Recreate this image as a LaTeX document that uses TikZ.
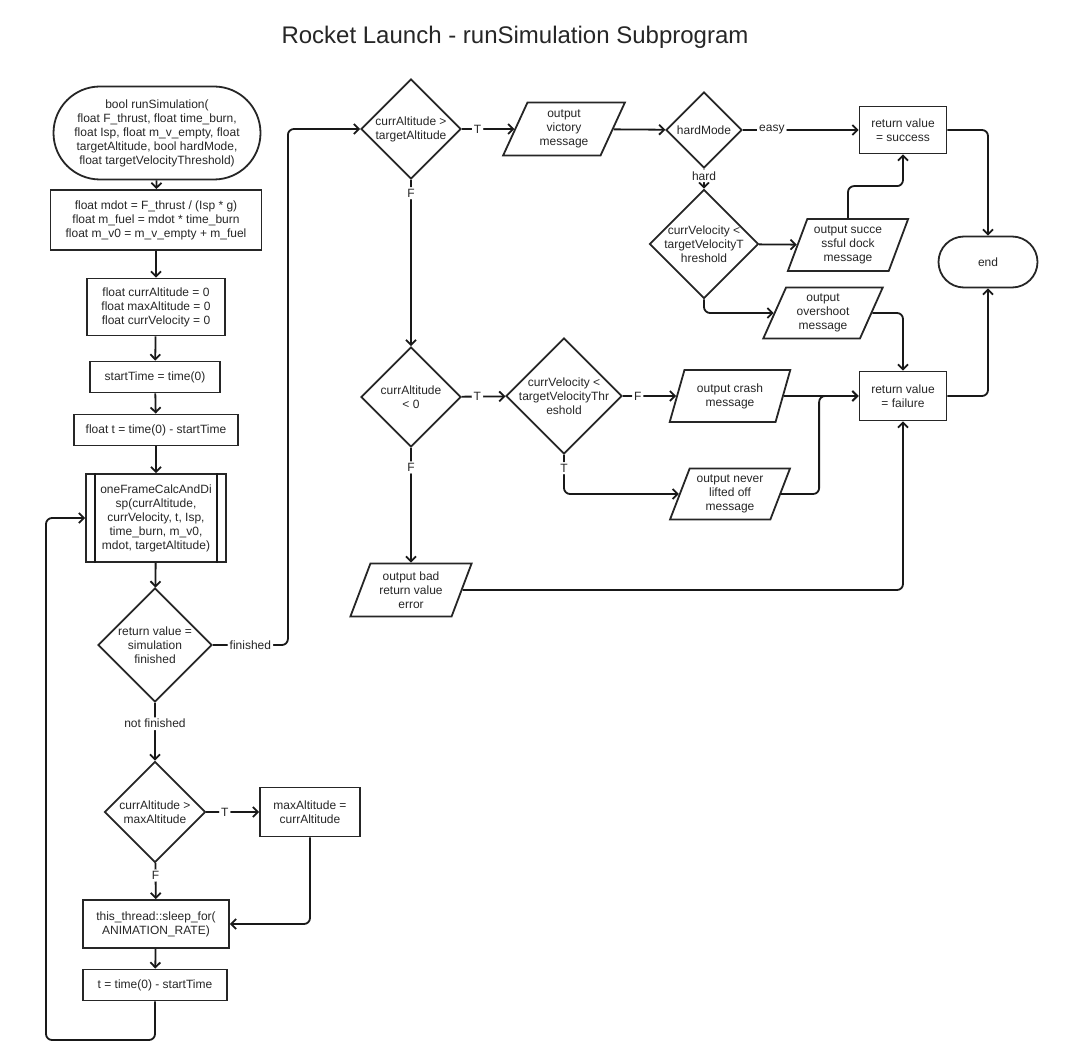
\documentclass[tikz,border=0pt]{standalone}
\usepackage{fontspec}
\setmainfont{Liberation Sans}
\usepackage{tikz}
\usetikzlibrary{shapes.geometric,shapes.misc,arrows.meta}

\begin{document}
\begin{tikzpicture}
 [x=1pt, y=-1pt, font=\fontsize{12}{14}\selectfont,
  every node/.style={text=black!85},
  line/.style={draw=black!90, line width=1.8pt, rounded corners=6pt},
  flow/.style={line, -{Straight Barb[length=5pt,width=10pt]}},
  proc node/.style={rectangle, draw=black!85, line width=1.8pt, align=center, inner sep=1pt},
  term node/.style={rounded rectangle, draw=black!85, line width=1.8pt, align=center, inner sep=1pt},
  dec node/.style={diamond, aspect=1, draw=black!85, line width=1.8pt, align=center, inner sep=0pt},
  io node/.style={trapezium, trapezium left angle=67, trapezium right angle=113, trapezium stretches=true,
                  draw=black!85, line width=1.8pt, align=center, inner sep=0pt},
  lbl/.style={fill=white, inner sep=2pt}]
\useasboundingbox (0,0) rectangle (1065,1064);

\node (title) at (515,37) {\fontsize{24}{28}\selectfont Rocket Launch - runSimulation Subprogram};

% main column
\node[term node, minimum width=209pt, minimum height=93pt] (start) at (157,133)
  {bool runSimulation(\\float F\_thrust, float time\_burn,\\float Isp, float m\_v\_empty, float\\targetAltitude, bool hardMode,\\float targetVelocityThreshold)};
\node[proc node, minimum width=211pt, minimum height=60pt] (mdot) at (156,220)
  {float mdot = F\_thrust / (Isp * g)\\float m\_fuel = mdot * time\_burn\\float m\_v0 = m\_v\_empty + m\_fuel};
\node[proc node, minimum width=138pt, minimum height=57pt] (init) at (156,307)
  {float currAltitude = 0\\float maxAltitude = 0\\float currVelocity = 0};
\node[proc node, minimum width=130pt, minimum height=31pt] (stime) at (155,377) {startTime = time(0)};
\node[proc node, minimum width=164pt, minimum height=31pt] (tinit) at (156,430) {float t = time(0) - startTime};
\node[proc node, minimum width=140pt, minimum height=88pt] (sub) at (156,518)
  {oneFrameCalcAndDi\\sp(currAltitude,\\currVelocity, t, Isp,\\time\_burn, m\_v0,\\mdot, targetAltitude)};
\draw[line] ([xshift=10pt]sub.north west) -- ([xshift=10pt]sub.south west);
\draw[line] ([xshift=-10pt]sub.north east) -- ([xshift=-10pt]sub.south east);
\node[dec node, minimum size=114pt, inner sep=-1pt] (d1) at (155,645) {return value =\\simulation\\finished};
\node[dec node, minimum size=101pt] (d2) at (155,812) {currAltitude >\\maxAltitude};
\node[proc node, minimum width=100pt, minimum height=49pt] (maxa) at (310,812) {maxAltitude =\\currAltitude};
\node[proc node, minimum width=146pt, minimum height=48pt] (sleep) at (156,924) {this\_thread::sleep\_for(\\ANIMATION\_RATE)};
\node[proc node, minimum width=144pt, minimum height=31pt] (tupd) at (155,985) {t = time(0) - startTime};
\coordinate (loop) at (46,1040);

% result branches
\node[dec node, minimum size=100pt, inner sep=-1pt] (d3) at (411,129) {currAltitude >\\targetAltitude};
\node[io node, minimum width=122pt, minimum height=53pt] (victory) at (564,129) {output\\victory\\message};
\node[dec node, minimum size=76pt] (hard) at (704,130) {hardMode};
\node[proc node, minimum width=87pt, minimum height=47pt] (success) at (903,130) {return value\\= success};
\node[dec node, minimum size=109pt, inner sep=-5pt] (d5) at (704,244) {currVelocity <\\targetVelocityT\\hreshold};
\node[io node, minimum width=121pt, minimum height=52pt] (dock) at (848,245) {output succe\\ssful dock\\message};
\node[io node, minimum width=120pt, minimum height=51pt] (over) at (823,313) {output\\overshoot\\message};
\node[term node, minimum width=101pt, minimum height=51pt] (endn) at (988,262) {end};
\node[dec node, minimum size=100pt] (d4) at (411,397) {currAltitude\\< 0};
\node[dec node, minimum size=116pt, inner sep=-5pt] (d6) at (564,396) {currVelocity <\\targetVelocityThr\\eshold};
\node[io node, minimum width=121pt, minimum height=52pt] (crash) at (730,396) {output crash\\message};
\node[proc node, minimum width=87pt, minimum height=49pt] (fail) at (903,396) {return value\\= failure};
\node[io node, minimum width=121pt, minimum height=51pt] (nolift) at (730,494) {output never\\lifted off\\message};
\node[io node, minimum width=122pt, minimum height=53pt] (bad) at (411,590) {output bad\\return value\\error};

\path
  (start) edge [flow] (mdot)
  (mdot) edge [flow] (init)
  (init) edge [flow] (stime)
  (stime) edge [flow] (tinit)
  (tinit) edge [flow] (sub)
  (sub) edge [flow] (d1)
  (d1) edge [flow] node [lbl, pos=0.36] {not finished} (d2)
  (d2) edge [flow] node [lbl, pos=0.35] {T} (maxa)
  (d2) edge [flow] node [lbl, pos=0.35] {F} (sleep)
  (sleep) edge [flow] (tupd)
  (d3) edge [flow] node [lbl, pos=0.3] {T} (victory)
  (d3) edge [flow] node [lbl, pos=0.08] {F} (d4)
  (victory) edge [flow] (hard)
  (hard) edge [flow] node [lbl, pos=0.25] {easy} (success)
  (hard) edge [flow] node [lbl, pos=0.35] {hard} (d5)
  (d5) edge [flow] (dock)
  (d4) edge [flow] node [lbl, pos=0.36] {T} (d6)
  (d4) edge [flow] node [lbl, pos=0.17] {F} (bad)
  (d6) edge [flow] node [lbl, pos=0.28] {F} (crash)
  (crash) edge [flow] (fail);

\draw[flow] (maxa.south) |- (sleep.east);
\draw[flow] (tupd.south) |- (loop) |- (sub.west);
\draw[flow] (d1.east) -- node [lbl] {finished} ++(75,0) |- (d3.west);
\draw[flow] (dock.north) -- ++(0,-32) -| (success.south);
\draw[flow] (d5.south) |- (over.west);
\draw[flow] (over.east) -| (fail.north);
\draw[flow] (success.east) -| (endn.north);
\draw[flow] (fail.east) -| (endn.south);
\draw[flow] (d6.south) |- node [lbl, pos=0.17] {T} (nolift.west);
\draw[flow] (nolift.east) -- ++(38,0) |- (fail.west);
\draw[flow] (bad.east) -| (fail.south);

\end{tikzpicture}
\end{document}
